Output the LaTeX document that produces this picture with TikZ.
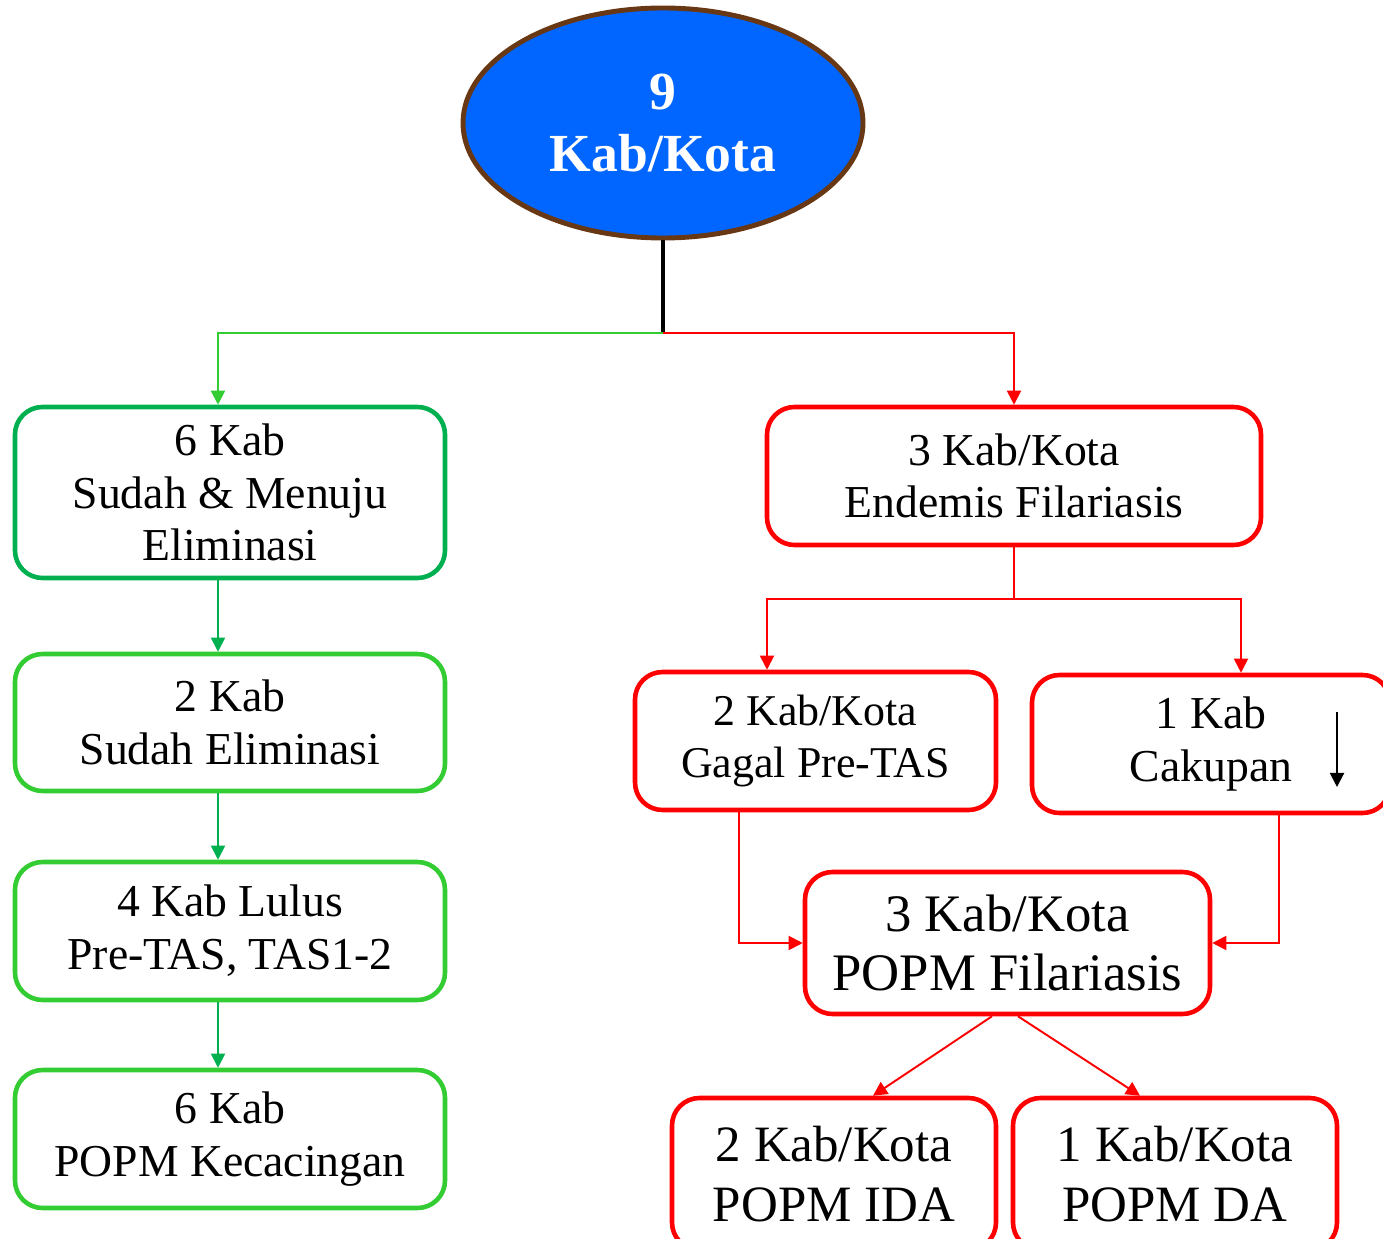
\documentclass[tikz,border=0pt]{standalone}
\usepackage{fontspec}
\setmainfont{Liberation Serif}
\usetikzlibrary{shapes,arrows.meta,positioning,calc}
\definecolor{kabblue}{RGB}{0,102,255}
\definecolor{kabbrown}{RGB}{104,56,20}
\definecolor{elimgreen}{RGB}{0,176,80}
\definecolor{limegreen}{RGB}{51,204,51}
\definecolor{filared}{RGB}{255,0,0}
\tikzset{
    kabbox/.style={rectangle, draw, line width=2.6pt, rounded corners=0.55cm, align=center, fill=white, inner sep=0pt, font=\fontsize{26}{30}\selectfont},
    greenbox/.style={kabbox, draw=limegreen},
    redbox/.style={kabbox, draw=filared},
    line/.style={draw, line width=1.1pt, -{Triangle[length=8pt,width=8pt]}},
    top/.style={ellipse, draw=kabbrown, fill=kabblue, line width=2.8pt, minimum width=8cm, minimum height=4.6cm, text=white, align=center, font=\fontsize{30.5}{35}\selectfont\bfseries}
}
\begin{document}
\begin{tikzpicture}
    \useasboundingbox (0,0) rectangle (27.66,-24.78);

    % Top node
    \node [top] (kota) at (13.26,-2.46) {9\\Kab/Kota};
    \coordinate (split) at ([yshift=-1.86cm]kota.south);

    % Left branch
    \node [greenbox, draw=elimgreen, minimum width=8.6cm, minimum height=3.42cm] (menuju) at (4.6,-9.85) {6 Kab\\Sudah \& Menuju\\Eliminasi};
    \node [greenbox, minimum width=8.6cm, minimum height=2.74cm] (sudah) at (4.6,-14.45) {2 Kab\\Sudah Eliminasi};
    \node [greenbox, minimum width=8.6cm, minimum height=2.76cm] (lulus) at (4.6,-18.62) {4 Kab Lulus\\Pre-TAS, TAS1-2};
    \node [greenbox, minimum width=8.6cm, minimum height=2.76cm] (cacing) at (4.6,-22.78) {6 Kab\\POPM Kecacingan};

    % Right branch
    \node [redbox, minimum width=9.88cm, minimum height=2.76cm] (endemis) at (20.28,-9.52) {3 Kab/Kota\\Endemis Filariasis};
    \coordinate (fork) at ([yshift=-1.04cm]endemis.south);
    \node [redbox, minimum width=7.22cm, minimum height=2.76cm, font=\fontsize{25}{30}\selectfont] (gagal) at (16.31,-14.82) {2 Kab/Kota\\Gagal Pre-TAS};
    \node [redbox, minimum width=7.16cm, minimum height=2.76cm] (cakupan) at (24.22,-14.88) {1 Kab\\Cakupan};
    \coordinate (turun1) at (26.74,-14.24);
    \coordinate (turun2) at (26.74,-15.74);
    \node [redbox, minimum width=8.1cm, minimum height=2.84cm, font=\fontsize{30}{34}\selectfont] (popm) at (20.15,-18.86) {3 Kab/Kota\\POPM Filariasis};
    \node [redbox, minimum width=6.48cm, minimum height=3.04cm, font=\fontsize{29}{34}\selectfont] (ida) at (16.68,-23.48) {2 Kab/Kota\\POPM IDA};
    \node [redbox, minimum width=6.48cm, minimum height=3.04cm, font=\fontsize{29}{34}\selectfont] (da) at (23.5,-23.48) {1 Kab/Kota\\POPM DA};

    % Connections
    \draw [line width=2pt] (kota.south) -- (split);
    \path [line, limegreen] (split) -| ([xshift=-0.24cm]menuju.north);
    \path [line, filared] (split) -| (endemis.north);

    \path [line, elimgreen] ([xshift=-0.24cm]menuju.south) -- ([xshift=-0.24cm]sudah.north);
    \path [line, elimgreen] ([xshift=-0.24cm]sudah.south) -- ([xshift=-0.24cm]lulus.north);
    \path [line, elimgreen] ([xshift=-0.24cm]lulus.south) -- ([xshift=-0.24cm]cacing.north);

    \draw [line width=1.1pt, filared] (endemis.south) -- (fork);
    \path [line, filared] (fork) -| ([xshift=-0.97cm]gagal.north);
    \path [line, filared] (fork) -| ([xshift=0.6cm]cakupan.north);
    \path [line, black] (turun1) -- (turun2);

    \path [line, filared] ([xshift=-1.53cm]gagal.south) |- (popm.west);
    \path [line, filared] ([xshift=1.36cm]cakupan.south) |- (popm.east);

    \path [line, filared] ([xshift=-0.31cm]popm.south) -- ([xshift=0.78cm]ida.north);
    \path [line, filared] ([xshift=0.21cm]popm.south) -- ([xshift=-0.7cm]da.north);
\end{tikzpicture}
\end{document}
